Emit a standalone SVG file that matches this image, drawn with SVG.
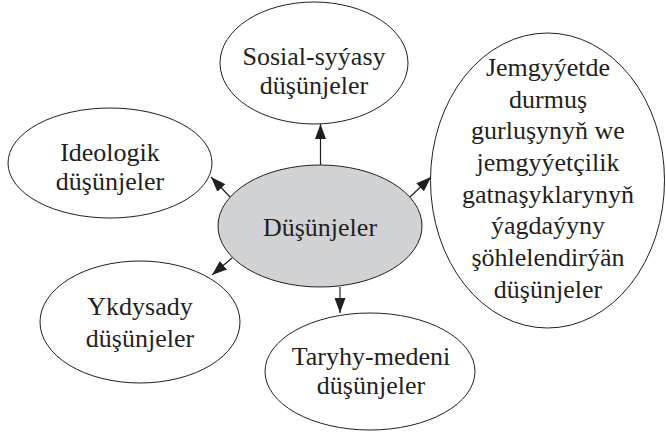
<svg xmlns="http://www.w3.org/2000/svg" width="666" height="432" viewBox="0 0 666 432">
<style>
.n{fill:#ffffff;stroke:#231f20;stroke-width:1}
.c{fill:#d1d2d4;stroke:#231f20;stroke-width:1}
.t{font-family:'Liberation Serif','Times New Roman',serif;font-size:26px;fill:#231f20;text-anchor:middle}
.e{stroke:#231f20;stroke-width:1.2;fill:none;marker-end:url(#ah)}
</style>
<defs>
<marker id="ah" markerUnits="userSpaceOnUse" markerWidth="15" markerHeight="11" viewBox="0 0 15 11" refX="15" refY="5.5" orient="auto">
<path d="M0,0 L15,5.5 L0,11 z" fill="#231f20"/>
</marker>
</defs>
<rect width="666" height="432" fill="#ffffff"/>
<g id="connectors">
<line class="e" x1="320.5" y1="165" x2="320.5" y2="124"/>
<line class="e" x1="230" y1="197" x2="211" y2="177"/>
<line class="e" x1="410" y1="197" x2="431" y2="177"/>
<line class="e" x1="232" y1="258" x2="212" y2="275"/>
<line class="e" x1="340" y1="287" x2="340" y2="313"/>
</g>
<g id="node-center">
<ellipse class="c" cx="320" cy="226" rx="102" ry="61"/>
<text class="t" x="320" y="236">Düşünjeler</text>
</g>
<g id="node-sosial">
<ellipse class="n" cx="314" cy="63" rx="94" ry="61"/>
<text class="t" x="314" y="65">Sosial-syýasy</text>
<text class="t" x="314" y="94">düşünjeler</text>
</g>
<g id="node-ideologik">
<ellipse class="n" cx="110" cy="163" rx="102" ry="55"/>
<text class="t" x="110" y="161">Ideologik</text>
<text class="t" x="110" y="190">düşünjeler</text>
</g>
<g id="node-jemgyyet">
<ellipse class="n" cx="547.5" cy="180.5" rx="117" ry="147.5"/>
<text class="t" x="548" y="76">Jemgyýetde</text>
<text class="t" x="548" y="107.7">durmuş</text>
<text class="t" x="548" y="139.4">gurluşynyň we</text>
<text class="t" x="548" y="171">jemgyýetçilik</text>
<text class="t" x="548" y="202.7">gatnaşyklarynyň</text>
<text class="t" x="548" y="234.4">ýagdaýyny</text>
<text class="t" x="548" y="266.1">şöhlelendirýän</text>
<text class="t" x="548" y="297.8">düşünjeler</text>
</g>
<g id="node-ykdysady">
<ellipse class="n" cx="140" cy="322" rx="100" ry="61"/>
<text class="t" x="140" y="315">Ykdysady</text>
<text class="t" x="140" y="347">düşünjeler</text>
</g>
<g id="node-taryhy">
<ellipse class="n" cx="370" cy="371.5" rx="105" ry="58.5"/>
<text class="t" x="371" y="365">Taryhy-medeni</text>
<text class="t" x="371" y="394">düşünjeler</text>
</g>
</svg>
